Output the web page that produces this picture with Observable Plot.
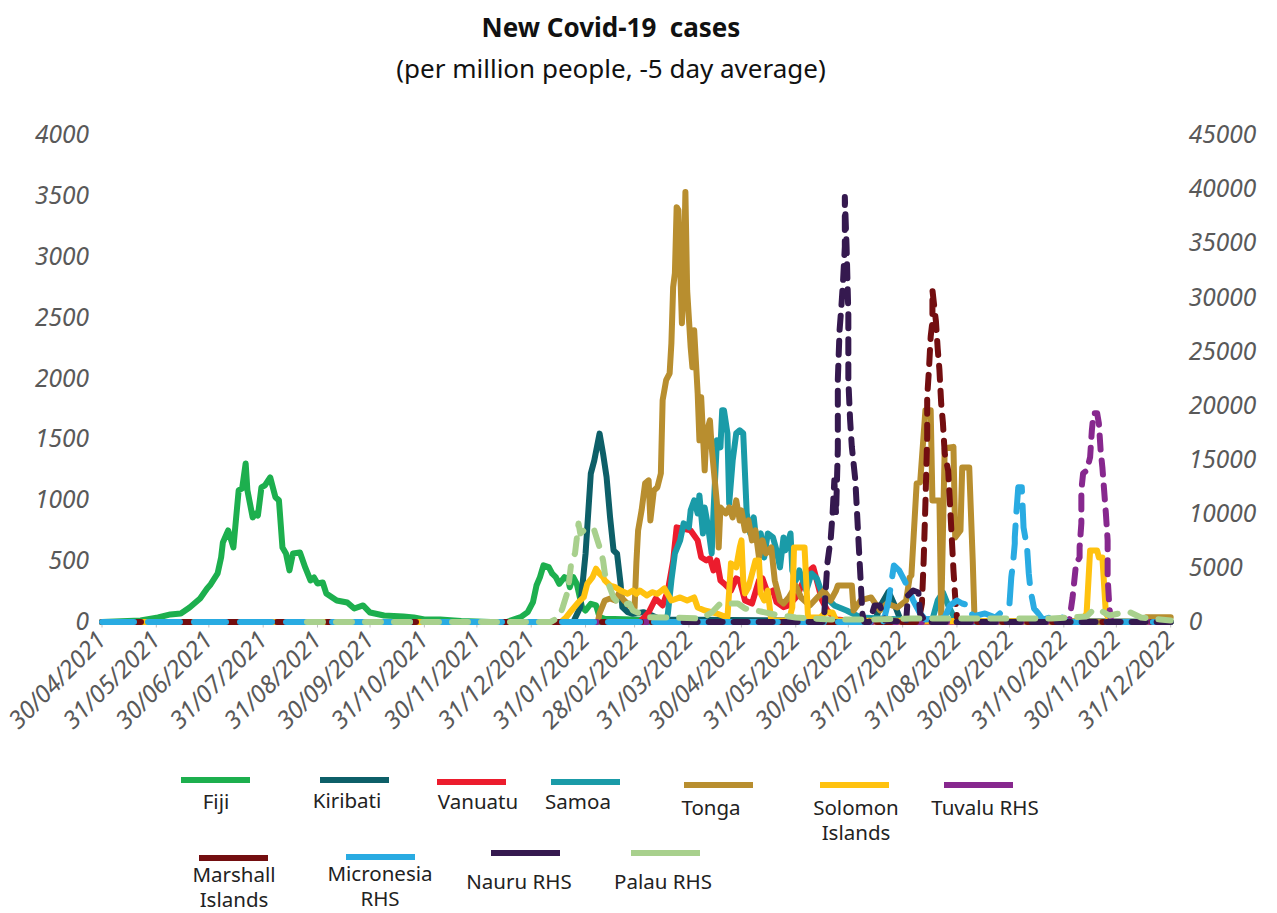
<!DOCTYPE html>
<html><head><meta charset="utf-8">
<script src="https://cdn.jsdelivr.net/npm/d3@7"></script>
<script src="https://cdn.jsdelivr.net/npm/@observablehq/plot@0.6"></script>
<style>
body{margin:0;background:#fff;}
#wrap{position:relative;width:1277px;height:913px;overflow:hidden;font-family:"Noto Sans",sans-serif;background:#fff;}
#title{position:absolute;left:0;width:1222px;top:9px;text-align:center;font-weight:700;font-size:26px;line-height:36px;color:#111;}
#subtitle{position:absolute;left:0;width:1222px;top:50px;text-align:center;font-size:26px;line-height:36px;color:#111;}
#chart{position:absolute;left:0;top:100px;}
.sw{position:absolute;height:6px;width:69px;}
.lb{position:absolute;width:160px;text-align:center;font-size:20.5px;line-height:25px;color:#222;white-space:pre;}
#chart [aria-label="x-axis tick"]{stroke:#bfbfbf;}
#chart [aria-label$="tick label"]{fill:#595959;}
</style></head>
<body><div id="wrap">
<div id="title">New Covid-19&nbsp; cases</div>
<div id="subtitle">(per million people, -5 day average)</div>
<div id="chart"></div>
<div id="legend"></div>
</div>
<script>
const xTicks = ["2021-04-30","2021-05-31","2021-06-30","2021-07-31","2021-08-31","2021-09-30","2021-10-31","2021-11-30","2021-12-31","2022-01-31","2022-02-28","2022-03-31","2022-04-30","2022-05-31","2022-06-30","2022-07-31","2022-08-31","2022-09-30","2022-10-31","2022-11-30","2022-12-31"];
const leftTicks = [0,500,1000,1500,2000,2500,3000,3500,4000];
const rightTicks = [0,5000,10000,15000,20000,25000,30000,35000,40000,45000];

const fiji = [["2021-04-30",0],["2021-05-22",12],["2021-06-01",37],["2021-06-08",62],["2021-06-14",70],["2021-06-19",119],["2021-06-25",193],["2021-06-29",276],["2021-07-01",309],["2021-07-05",399],["2021-07-07",531],["2021-07-08",654],["2021-07-11",753],["2021-07-14",613],["2021-07-17",1082],["2021-07-19",1099],["2021-07-21",1304],["2021-07-22",1082],["2021-07-25",860],["2021-07-27",893],["2021-07-28",876],["2021-07-30",1107],["2021-08-01",1123],["2021-08-04",1189],["2021-08-07",1025],["2021-08-09",1000],["2021-08-11",613],["2021-08-13",564],["2021-08-15",424],["2021-08-17",564],["2021-08-21",572],["2021-08-24",449],["2021-08-27",342],["2021-08-29",366],["2021-08-31",317],["2021-09-03",325],["2021-09-05",235],["2021-09-11",177],["2021-09-17",160],["2021-09-21",111],["2021-09-26",136],["2021-09-30",78],["2021-10-08",53],["2021-10-19",45],["2021-10-25",37],["2021-10-31",21],["2021-11-09",21],["2021-11-21",8],["2021-12-08",0],["2021-12-17",0],["2021-12-25",40],["2021-12-29",81],["2022-01-01",163],["2022-01-03",300],["2022-01-05",369],["2022-01-07",465],["2022-01-10",451],["2022-01-12",397],["2022-01-14",369],["2022-01-16",314],["2022-01-19",369],["2022-01-21",356],["2022-01-22",286],["2022-01-24",369],["2022-01-26",314],["2022-01-29",122],["2022-01-31",95],["2022-02-03",150],["2022-02-06",136],["2022-02-08",40],["2022-02-11",26],["2022-03-15",15],["2022-05-01",8],["2022-07-01",5],["2022-12-31",3]];

const kiribati = [["2021-04-30",0],["2022-01-24",0],["2022-01-28",122],["2022-01-31",561],["2022-02-01",780],["2022-02-03",1220],["2022-02-05",1329],["2022-02-08",1549],["2022-02-10",1384],["2022-02-12",1192],["2022-02-14",862],["2022-02-16",588],["2022-02-18",561],["2022-02-20",314],["2022-02-21",122],["2022-02-24",81],["2022-02-27",67],["2022-03-05",81],["2022-03-08",67],["2022-03-15",20],["2022-07-15",10],["2022-07-19",150],["2022-07-23",250],["2022-07-27",120],["2022-07-30",10],["2022-12-31",0]];

const vanuatu = [["2021-04-30",0],["2022-03-03",0],["2022-03-08",78],["2022-03-12",193],["2022-03-16",136],["2022-03-19",259],["2022-03-22",506],["2022-03-24",778],["2022-04-01",753],["2022-04-05",671],["2022-04-07",533],["2022-04-10",506],["2022-04-12",523],["2022-04-14",424],["2022-04-16",506],["2022-04-18",342],["2022-04-20",317],["2022-04-24",259],["2022-04-27",358],["2022-04-29",342],["2022-05-02",177],["2022-05-06",152],["2022-05-10",342],["2022-05-12",358],["2022-05-15",235],["2022-05-18",259],["2022-05-20",163],["2022-05-24",122],["2022-05-27",136],["2022-06-01",218],["2022-06-06",399],["2022-06-10",449],["2022-06-12",342],["2022-06-15",177],["2022-06-18",95],["2022-06-23",20],["2022-07-07",5],["2022-12-31",0]];

const samoa = [["2021-04-30",0],["2022-03-18",0],["2022-03-19",70],["2022-03-21",342],["2022-03-23",564],["2022-03-26",671],["2022-03-28",811],["2022-03-31",778],["2022-04-01",918],["2022-04-03",1000],["2022-04-05",893],["2022-04-06",1041],["2022-04-08",728],["2022-04-09",942],["2022-04-11",778],["2022-04-13",564],["2022-04-14",893],["2022-04-16",1494],["2022-04-18",1436],["2022-04-19",1741],["2022-04-20",1741],["2022-04-22",1551],["2022-04-23",975],["2022-04-25",1329],["2022-04-27",1551],["2022-04-29",1576],["2022-05-01",1551],["2022-05-02",1222],["2022-05-03",893],["2022-05-05",728],["2022-05-07",860],["2022-05-08",728],["2022-05-09",671],["2022-05-11",728],["2022-05-13",531],["2022-05-15",728],["2022-05-18",695],["2022-05-20",589],["2022-05-22",449],["2022-05-24",695],["2022-05-25",589],["2022-05-28",728],["2022-05-29",424],["2022-05-31",342],["2022-06-02",424],["2022-06-06",259],["2022-06-09",399],["2022-06-12",358],["2022-06-15",235],["2022-06-22",136],["2022-06-29",95],["2022-07-07",37],["2022-07-30",20],["2022-08-17",20],["2022-08-20",177],["2022-08-23",243],["2022-08-26",136],["2022-08-30",20],["2022-09-05",0],["2022-12-31",0]];

const tonga = [["2021-04-30",0],["2022-02-07",0],["2022-02-08",70],["2022-02-11",177],["2022-02-14",193],["2022-02-17",177],["2022-02-19",235],["2022-02-22",177],["2022-02-25",136],["2022-02-28",119],["2022-03-01",482],["2022-03-02",753],["2022-03-04",918],["2022-03-06",1140],["2022-03-08",1164],["2022-03-09",835],["2022-03-11",1082],["2022-03-13",1107],["2022-03-15",1222],["2022-03-16",1823],["2022-03-18",1988],["2022-03-20",2045],["2022-03-21",2292],["2022-03-22",2753],["2022-03-23",2868],["2022-03-24",3411],["2022-03-25",3387],["2022-03-27",2457],["2022-03-28",2811],["2022-03-29",3535],["2022-03-30",2728],["2022-04-01",2259],["2022-04-02",2094],["2022-04-03",2399],["2022-04-05",1880],["2022-04-06",1494],["2022-04-07",1848],["2022-04-09",1247],["2022-04-10",1551],["2022-04-12",1658],["2022-04-13",1436],["2022-04-16",975],["2022-04-17",613],["2022-04-18",942],["2022-04-21",893],["2022-04-23",942],["2022-04-25",860],["2022-04-27",1000],["2022-04-29",835],["2022-04-30",918],["2022-05-02",753],["2022-05-04",835],["2022-05-06",671],["2022-05-08",753],["2022-05-10",531],["2022-05-12",671],["2022-05-14",564],["2022-05-17",613],["2022-05-19",342],["2022-05-22",177],["2022-05-24",152],["2022-05-27",202],["2022-05-31",300],["2022-06-03",202],["2022-06-08",136],["2022-06-16",259],["2022-06-20",177],["2022-06-23",259],["2022-06-24",300],["2022-07-02",300],["2022-07-03",95],["2022-07-07",177],["2022-07-13",202],["2022-07-18",95],["2022-07-22",152],["2022-07-28",119],["2022-08-02",177],["2022-08-04",366],["2022-08-05",383],["2022-08-08",1140],["2022-08-10",1148],["2022-08-13",1741],["2022-08-16",1741],["2022-08-17",1000],["2022-08-21",1000],["2022-08-22",37],["2022-08-24",1428],["2022-08-29",1440],["2022-08-30",695],["2022-09-02",753],["2022-09-03",1271],["2022-09-07",1271],["2022-09-09",506],["2022-09-10",37],["2022-09-13",4],["2022-12-14",0],["2022-12-17",40],["2022-12-31",40]];

const solomon = [["2021-04-30",0],["2022-01-17",0],["2022-01-20",40],["2022-01-23",95],["2022-01-27",163],["2022-01-30",204],["2022-02-01",314],["2022-02-04",369],["2022-02-06",438],["2022-02-08",397],["2022-02-10",369],["2022-02-11",342],["2022-02-14",300],["2022-02-17",286],["2022-02-20",259],["2022-02-24",232],["2022-02-27",259],["2022-03-01",232],["2022-03-03",259],["2022-03-07",218],["2022-03-10",245],["2022-03-13",232],["2022-03-17",276],["2022-03-21",177],["2022-03-26",202],["2022-03-30",177],["2022-04-03",202],["2022-04-05",119],["2022-04-09",95],["2022-04-16",70],["2022-04-22",37],["2022-04-24",482],["2022-04-27",449],["2022-04-29",613],["2022-04-30",671],["2022-05-01",342],["2022-05-02",235],["2022-05-04",284],["2022-05-08",506],["2022-05-10",506],["2022-05-11",235],["2022-05-13",177],["2022-05-15",259],["2022-05-17",12],["2022-05-27",12],["2022-05-29",119],["2022-05-30",613],["2022-06-05",613],["2022-06-07",37],["2022-06-14",37],["2022-06-17",78],["2022-06-21",78],["2022-06-23",12],["2022-11-10",4],["2022-11-13",70],["2022-11-15",588],["2022-11-19",588],["2022-11-20",531],["2022-11-22",531],["2022-11-24",70],["2022-11-27",0],["2022-12-31",0]];

// right-hand-side series (per million, RHS scale)
const tuvalu = [["2022-01-01",0],["2022-11-03",0],["2022-11-05",2270],["2022-11-06",3840],["2022-11-07",5420],["2022-11-09",5970],["2022-11-09",6900],["2022-11-10",9120],["2022-11-10",12180],["2022-11-11",13750],["2022-11-13",14000],["2022-11-15",15230],["2022-11-16",17740],["2022-11-17",19320],["2022-11-19",19320],["2022-11-20",18380],["2022-11-21",15880],["2022-11-22",14310],["2022-11-23",12180],["2022-11-24",10050],["2022-11-25",7550],["2022-11-25",4120],["2022-11-26",1340],["2022-11-27",0],["2022-12-31",0]];

const marshall = [["2021-04-30",0],["2022-08-09",0],["2022-08-11",1700],["2022-08-12",5700],["2022-08-13",11000],["2022-08-14",17100],["2022-08-14",20800],["2022-08-15",23300],["2022-08-16",26400],["2022-08-17",27800],["2022-08-17",30700],["2022-08-19",27800],["2022-08-20",25300],["2022-08-21",23300],["2022-08-22",20200],["2022-08-23",18400],["2022-08-24",15600],["2022-08-26",14000],["2022-08-27",10970],["2022-08-28",7870],["2022-08-29",4780],["2022-08-30",2270],["2022-08-31",420],["2022-09-02",0],["2022-12-31",0]];

const micronesia = [["2021-04-30",0],["2022-07-20",0],["2022-07-23",1990],["2022-07-26",5230],["2022-07-29",4770],["2022-08-01",3840],["2022-08-03",3190],["2022-08-06",1990],["2022-08-10",790],["2022-08-13",230],["2022-08-24",420],["2022-08-27",1530],["2022-08-31",1990],["2022-09-03",1710],["2022-09-07",1530],["2022-09-09",510],["2022-09-16",790],["2022-09-22",420],["2022-09-27",1160],["2022-09-30",1710],["2022-10-01",4120],["2022-10-02",5420],["2022-10-03",7270],["2022-10-03",7820],["2022-10-04",10320],["2022-10-05",12460],["2022-10-07",12460],["2022-10-08",8750],["2022-10-09",7820],["2022-10-10",6900],["2022-10-11",4490],["2022-10-12",2920],["2022-10-14",1250],["2022-10-16",880],["2022-10-19",230],["2022-10-23",420],["2022-10-30",420],["2022-11-02",0],["2022-12-31",0]];

const nauru = [["2022-03-28",0],["2022-06-16",0],["2022-06-18",5400],["2022-06-20",7800],["2022-06-21",10000],["2022-06-22",13100],["2022-06-23",10000],["2022-06-24",16000],["2022-06-24",22400],["2022-06-25",27000],["2022-06-26",29100],["2022-06-27",31600],["2022-06-28",34700],["2022-06-28",39300],["2022-06-29",34700],["2022-06-30",28500],["2022-06-30",22400],["2022-07-01",18700],["2022-07-02",16200],["2022-07-04",13100],["2022-07-05",10000],["2022-07-06",6900],["2022-07-07",3900],["2022-07-08",800],["2022-07-09",0],["2022-07-12",0],["2022-07-15",1530],["2022-07-18",1530],["2022-07-21",140],["2022-08-02",0],["2022-08-03",2450],["2022-08-06",2920],["2022-08-09",2730],["2022-08-10",790],["2022-08-13",0],["2022-12-31",0]];

const palau = [["2021-08-25",0],["2022-01-11",0],["2022-01-16",444],["2022-01-18",1370],["2022-01-21",2917],["2022-01-23",5694],["2022-01-25",6342],["2022-01-27",9120],["2022-01-28",8194],["2022-01-30",8472],["2022-02-02",8194],["2022-02-05",8472],["2022-02-08",6926],["2022-02-10",5694],["2022-02-11",4490],["2022-02-13",3565],["2022-02-16",2268],["2022-02-20",1528],["2022-02-25",1713],["2022-02-27",1065],["2022-03-03",787],["2022-03-08",444],["2022-03-21",417],["2022-04-07",324],["2022-04-13",880],["2022-04-18",1713],["2022-04-28",1713],["2022-05-02",1250],["2022-05-11",972],["2022-05-19",694],["2022-05-31",417],["2022-06-20",231],["2022-07-13",231],["2022-08-05",324],["2022-09-02",324],["2022-09-25",324],["2022-10-24",324],["2022-11-13",509],["2022-11-17",1157],["2022-11-21",1065],["2022-11-26",602],["2022-12-04",880],["2022-12-08",880],["2022-12-14",417],["2022-12-25",231],["2022-12-31",139]];

const seriesNames = ["Fiji","Kiribati","Vanuatu","Samoa","Tonga","Solomon\nIslands","Tuvalu RHS","Marshall\nIslands","Micronesia\nRHS","Nauru RHS","Palau RHS"];
const seriesData = [fiji,kiribati,vanuatu,samoa,tonga,solomon,tuvalu,marshall,micronesia,nauru,palau];
const seriesRHS = [false,false,false,false,false,false,true,true,true,true,true];
const seriesColors = ["#1DAF4E","#0D5F68","#EC1C2D","#1A9BA8","#B88E2F","#FFC20F","#87288E","#730E10","#29ABE2","#35194F","#A8D08D"];
const seriesDash = [null,null,null,null,null,null,"14,11","14,11","32,14","14,11","16,13"];

// legend layout: [line left, line centre y, label centre x, label top]
const legendLayout = [[181,780,216,789],[320,780,347,788],[437,782,478,789],[551,782,578,789],[684,785,711,795],[820,785,856,795],[944,785,985,795],[199,858,234,862],[346,857,380,861],[491,853,519,869],[631,853,663,869]];

const K = 4000/45000;
const P = s => new Date(s + "T00:00:00Z");
const fmt = d3.utcFormat("%d/%m/%Y");

const marks = seriesData.map((data,i) => Plot.line(data, {
  x: d => P(d[0]),
  y: d => d[1] * (seriesRHS[i] ? K : 1),
  stroke: seriesColors[i],
  strokeWidth: 6,
  strokeDasharray: seriesDash[i] || undefined,
  strokeLinecap: "round",
  strokeLinejoin: "round"
}));

const chart = Plot.plot({
  width: 1277,
  height: 660,
  marginLeft: 101.5,
  marginRight: 1277 - 1170.2,
  marginTop: 35,
  marginBottom: 138.5,
  style: {fontSize: "24.5px", fontFamily: "'Noto Sans', sans-serif", fontStyle: "italic", background: "#fff", overflow: "visible"},
  x: {type: "utc", domain: [P(xTicks[0]), P(xTicks[xTicks.length-1])], label: null},
  y: {domain: [0, 4000], label: null},
  marks: [
    Plot.axisY(leftTicks, {anchor: "left", tickSize: 0, tickPadding: 13, tickFormat: d => String(d), label: null}),
    Plot.axisY(rightTicks.map(v => v*K), {anchor: "right", tickSize: 0, tickPadding: 18, tickFormat: d => String(Math.round(d/K)), label: null}),
    Plot.axisX(xTicks.map(P), {tickRotate: -45, tickSize: 6, tickPadding: 8, tickFormat: fmt, label: null}),
    ...marks
  ]
});
document.getElementById("chart").appendChild(chart);

const leg = document.getElementById("legend");
seriesNames.forEach((name,i) => {
  const [lx, ly, cx, ty] = legendLayout[i];
  const sw = document.createElement("div");
  sw.className = "sw";
  sw.style.left = lx + "px"; sw.style.top = (ly-3) + "px"; sw.style.background = seriesColors[i];
  leg.appendChild(sw);
  const lb = document.createElement("div");
  lb.className = "lb";
  lb.style.left = (cx-80) + "px"; lb.style.top = ty + "px";
  lb.textContent = name;
  leg.appendChild(lb);
});
</script>
</body></html>
